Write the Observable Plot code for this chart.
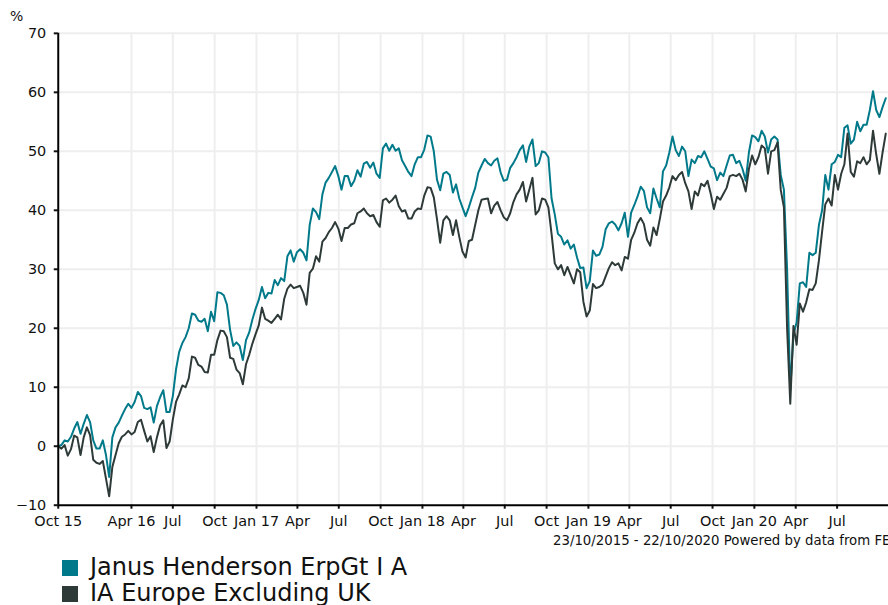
<!DOCTYPE html>
<html>
<head>
<meta charset="utf-8">
<script src="https://cdn.jsdelivr.net/npm/d3@7"></script>
<script src="https://cdn.jsdelivr.net/npm/@observablehq/plot@0.6"></script>
<style>
  html, body { margin: 0; padding: 0; background: #fff; }
  body { font-family: "DejaVu Sans", Verdana, sans-serif; color: #111; }
  #wrap { position: relative; width: 888px; height: 605px; overflow: hidden; }
  #chart { position: absolute; left: 0; top: 0; }
  .unit { position: absolute; left: 10px; top: 8px; font-size: 14px; line-height: 16px; }
  .caption { position: absolute; left: 553px; top: 533px; font-size: 13.3px; line-height: 16px; white-space: nowrap; }
  .legend-row { position: absolute; left: 62px; height: 26px; white-space: nowrap; font-size: 24px; line-height: 26px; }
  .legend-row .sw { position: absolute; left: 0; top: 6px; width: 16px; height: 16px; }
  .legend-row .lab { position: absolute; left: 28px; top: 0; }
</style>
</head>
<body>
<div id="wrap">
  <div id="chart"></div>
  <div class="unit" id="unit"></div>
  <div class="caption" id="caption"></div>
  <div id="legend"></div>
</div>
<script>
// ---------------- data ----------------
const startDate = "2015-10-23";
const endDate = "2020-10-22";
const unitLabel = "%";
const captionText = "23/10/2015 - 22/10/2020 Powered by data from FE";
const seriesNames = ["Janus Henderson ErpGt I A", "IA Europe Excluding UK"];
const seriesColors = ["#007a8a", "#2d3a38"];

// weekly cumulative performance (%)
const janus = [
  0, 0.2, 1.0, 0.8, 1.6, 3.0, 4.1, 2.1, 3.8, 5.3,
  4.1, 1.0, -0.4, -0.4, 1.0, -1.5, -5.2, 1.5, 3.2, 4.0,
  5.2, 6.3, 7.2, 6.5, 7.5, 9.2, 8.5, 6.5, 6.3, 6.6,
  4.0, 6.8, 8.3, 9.5, 5.8, 5.8, 8.5, 13.0, 16.0, 17.5,
  18.5, 20.0, 22.5,
  22.3, 21.3, 21.1, 21.6, 19.5, 22.8, 21.2, 26.1, 26.0, 25.6,
  24.0, 19.7, 17.0, 17.6, 17.0, 14.6, 18.0, 19.3, 21.5, 23.3,
  24.8, 27.0, 25.1, 26.0, 25.9, 28.2, 27.3, 28.5, 28.0, 32.2,
  33.2, 31.3, 32.9, 33.4, 32.8, 31.5, 37.5, 40.3, 39.7, 38.5,
  42.7, 44.7, 45.5, 46.5, 47.5,
  45.8, 43.5, 45.8, 45.8, 44.1, 45.0, 46.8, 45.7, 47.9, 48.2,
  47.2, 48.1, 46.2, 45.5, 50.5, 51.3, 50.1, 51.1, 50.1, 50.5,
  48.5, 47.5, 46.5, 45.8, 47.8, 49.0, 49.0, 50.3, 52.7, 52.5,
  50.0, 45.2, 43.4, 46.2, 46.5, 46.0, 43.0, 44.4, 42.0, 40.5,
  39.0, 40.5, 42.2, 43.8,
  46.4, 47.6, 48.7, 48.0, 47.6, 48.4, 48.8, 46.4, 45.0, 45.2,
  47.2, 48.0, 49.0, 50.2, 51.0, 48.2, 50.8, 52.0, 47.5, 48.0,
  50.0, 49.8, 49.0, 42.0, 39.3, 36.0, 35.5, 34.2, 34.9, 33.5,
  34.2, 32.0, 30.2, 30.3, 26.8, 28.0, 33.2, 32.3, 32.5, 33.8,
  36.8, 37.8, 38.1,
  37.6, 36.6, 37.8, 39.6, 35.5, 39.6, 40.9, 42.3, 44.0, 43.3,
  40.5, 39.5, 43.7, 42.0, 40.5, 46.6, 47.6, 49.8, 52.5, 50.2,
  49.2, 50.8, 50.0, 45.8, 48.6, 48.0, 49.2, 49.0, 50.0, 48.7,
  47.4, 47.1, 45.1, 46.4, 45.8, 47.6, 49.3, 49.4, 48.0, 48.4,
  47.0, 45.0, 49.8,
  52.7, 52.4, 51.7, 53.5, 52.5, 49.8, 52.0, 52.5, 52.0, 46.0,
  43.5, 30.0, 9.5, 19.0, 21.0, 27.6, 27.8, 27.0, 32.8, 32.4,
  32.8, 37.5, 40.0, 46.0, 43.5, 47.8, 48.2, 49.4, 49.0, 54.0,
  54.4, 51.3, 52.0, 55.0, 53.4, 54.5, 54.5, 57.0, 60.2, 57.0,
  55.8, 57.5, 59.0
];
const sector = [
  0, -0.4, 0.2, -1.6, -0.5, 1.8, 1.5, -1.5, 1.5, 3.2,
  1.9, -2.3, -2.8, -3.0, -2.5, -5.5, -8.5, -3.5, -1.5, 0.5,
  1.6, 2.0, 2.6, 2.0, 2.4, 4.1, 4.5, 2.6, 0.8, 1.7,
  -1.0, 1.5, 3.5, 4.4, -0.3, 0.8, 4.5, 7.5, 8.8, 10.3,
  10.0, 11.5, 15.2,
  15.0, 13.8, 13.5, 12.6, 12.5, 15.5, 15.5, 18.0, 19.6, 19.5,
  18.5, 15.0, 14.8, 13.0, 12.4, 10.5, 13.9, 15.5, 17.4, 19.0,
  20.5, 23.5, 21.6, 21.3, 20.9, 21.6, 22.3, 21.5, 25.0, 26.7,
  27.4, 26.8, 27.0, 27.2, 26.0, 24.0, 29.4, 30.1, 32.2, 31.3,
  34.7, 35.3, 36.3, 37.0, 38.0,
  36.9, 34.8, 37.0, 37.0, 37.6, 37.8, 39.5, 39.8, 40.3, 39.5,
  39.0, 39.2, 38.0, 37.2, 41.7, 42.0, 41.3, 41.8, 42.5, 40.7,
  39.8, 40.0, 38.6, 38.6, 39.8, 40.3, 40.2, 42.5, 43.9, 43.8,
  42.2, 38.5, 34.5, 38.3, 39.0, 38.3, 35.8, 38.3, 35.5, 33.0,
  32.0, 34.8, 35.0, 37.5,
  40.0, 41.8, 41.9, 42.0, 39.5, 40.8, 41.4, 40.0, 38.8, 38.3,
  39.5, 41.4, 42.7, 43.5, 44.8, 41.5, 43.5, 45.5, 39.3, 40.0,
  42.0, 41.8, 40.5, 36.0, 31.0, 30.0, 30.7, 29.0, 30.4, 29.0,
  27.6, 30.0, 29.5, 24.5, 22.0, 23.0, 27.5, 26.8, 27.0, 27.4,
  28.8, 30.2, 31.2,
  30.7, 31.0, 29.8, 32.1, 31.8, 35.0, 36.2, 37.8, 38.7, 37.7,
  35.0, 34.0, 37.1, 35.8, 38.5, 41.5, 42.5, 43.9, 45.8, 45.1,
  46.0, 46.5, 44.6, 43.2, 40.2, 43.2, 42.5, 44.5, 44.1, 45.0,
  42.8, 40.2, 42.3, 41.8, 42.8, 43.8, 45.8, 46.0, 45.8, 46.2,
  45.2, 43.2, 47.0,
  49.3, 47.8, 49.0, 51.0, 50.5, 46.2, 50.0, 50.2, 51.5, 43.5,
  40.5, 20.0, 7.2, 20.4, 17.2, 24.2, 22.8, 24.4, 26.6, 26.5,
  27.6, 31.5, 36.4, 41.0, 42.0, 40.8, 46.0, 43.5, 46.2, 47.8,
  53.0, 46.5, 45.7, 48.3, 48.0, 49.0, 47.8, 48.5, 53.5, 49.5,
  46.2, 49.8, 53.0
];

const yTicks = [-10, 0, 10, 20, 30, 40, 50, 60, 70];
const xTickDates = [
  "2015-10-23", "2016-04-01", "2016-07-01", "2016-10-01",
  "2017-01-01", "2017-04-01", "2017-07-01", "2017-10-01",
  "2018-01-01", "2018-04-01", "2018-07-01", "2018-10-01",
  "2019-01-01", "2019-04-01", "2019-07-01", "2019-10-01",
  "2020-01-01", "2020-04-01", "2020-07-01"
];
const xTickLabels = [
  "Oct 15", "Apr 16", "Jul", "Oct",
  "Jan 17", "Apr", "Jul", "Oct",
  "Jan 18", "Apr", "Jul", "Oct",
  "Jan 19", "Apr", "Jul", "Oct",
  "Jan 20", "Apr", "Jul"
];

// ---------------- build ----------------
const start = new Date(startDate);
const end = new Date(endDate);
const weekDates = janus.map((_, i) => d3.utcDay.offset(start, 7 * i));
const makeRows = (vals, name) => vals.map((v, i) => ({date: weekDates[i], value: v, series: name}));
const rowsJanus = makeRows(janus, seriesNames[0]);
const rowsSector = makeRows(sector, seriesNames[1]);

const tickDates = xTickDates.map(d => new Date(d));
const labelByTime = new Map(tickDates.map((d, i) => [+d, xTickLabels[i]]));
const gridDates = tickDates.slice(1);

const chart = Plot.plot({
  width: 892,
  height: 530,
  marginLeft: 58,
  marginRight: 0,
  marginTop: 33,
  marginBottom: 23,
  style: {fontFamily: "'DejaVu Sans', Verdana, sans-serif", fontSize: "14.5px", background: "#fff", color: "#111", overflow: "visible"},
  x: {type: "utc", domain: [start, end]},
  y: {domain: [-10, 70]},
  marks: [
    Plot.ruleY(yTicks.slice(1), {stroke: "#eeeeee", strokeWidth: 2}),
    Plot.ruleX(gridDates, {stroke: "#eeeeee", strokeWidth: 2}),
    Plot.lineY(rowsJanus, {x: "date", y: "value", stroke: seriesColors[0], strokeWidth: 2}),
    Plot.lineY(rowsSector, {x: "date", y: "value", stroke: seriesColors[1], strokeWidth: 2}),
    Plot.axisY({ticks: yTicks, tickSize: 4, tickPadding: 8, strokeWidth: 2, label: null, fontSize: 14.5}),
    Plot.axisX({ticks: tickDates, tickFormat: d => labelByTime.get(+d) ?? "", tickSize: 4, tickPadding: 7, strokeWidth: 2, label: null, fontSize: 14.5}),
    Plot.ruleX([start], {stroke: "#000", strokeWidth: 2}),
    Plot.ruleY([-10], {stroke: "#000", strokeWidth: 2})
  ]
});
document.getElementById("chart").appendChild(chart);

document.getElementById("unit").textContent = unitLabel;
document.getElementById("caption").textContent = captionText;

const legend = document.getElementById("legend");
seriesNames.forEach((name, i) => {
  const row = document.createElement("div");
  row.className = "legend-row";
  row.style.top = (554 + 26 * i) + "px";
  const sw = document.createElement("span");
  sw.className = "sw";
  sw.style.background = seriesColors[i];
  const lab = document.createElement("span");
  lab.className = "lab";
  lab.textContent = name;
  row.appendChild(sw);
  row.appendChild(lab);
  legend.appendChild(row);
});
</script>
</body>
</html>
